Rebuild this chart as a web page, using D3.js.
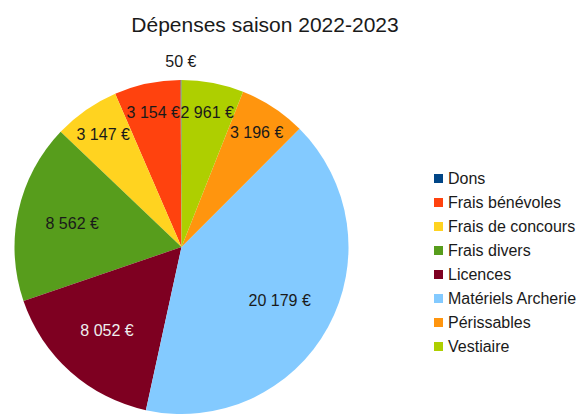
<!DOCTYPE html>
<html>
<head>
<meta charset="utf-8">
<script src="https://cdn.jsdelivr.net/npm/d3@7"></script>
<style>
  body { margin: 0; background: #fff; }
  text { font-family: "Liberation Sans", Arial, sans-serif; }
</style>
</head>
<body>
<div id="content"></div>
<script>
// chart data
const categories = ["Dons", "Frais bénévoles", "Frais de concours", "Frais divers",
                    "Licences", "Matériels Archerie", "Périssables", "Vestiaire"];
const values = [50, 3154, 3147, 8562, 8052, 20179, 3196, 2961];
const colors = ["#004586", "#ff420e", "#ffd320", "#579d1c",
                "#7e0021", "#83caff", "#ff950e", "#aecf00"];
const title = "Dépenses saison 2022-2023";

const width = 581, height = 416;
const cx = 181.5, cy = 247, radius = 167;

const svg = d3.select("#content")
    .append("svg")
    .attr("width", width)
    .attr("height", height);

// title
svg.append("text")
    .attr("x", 265)
    .attr("y", 32)
    .attr("text-anchor", "middle")
    .attr("font-size", "21px")
    .attr("fill", "#1a1a1a")
    .text(title);

const data = categories.map((c, i) => ({ name: c, value: values[i], color: colors[i] }));

// slices go counter-clockwise from the top, like LibreOffice does
const pie = d3.pie()
    .sort(null)
    .value(d => d.value)
    .startAngle(0)
    .endAngle(-2 * Math.PI);

const arc = d3.arc().innerRadius(0).outerRadius(radius);
const total = d3.sum(values);
const fmt = v => d3.format(",")(v).replace(/,/g, "\u00a0") + "\u00a0€";

const g = svg.append("g")
    .attr("transform", "translate(" + cx + "," + cy + ")");

const arcs = pie(data);

g.selectAll("path")
    .data(arcs)
    .enter()
    .append("path")
    .attr("d", arc)
    .attr("fill", d => d.data.color);

// value labels
g.selectAll("text.label")
    .data(arcs)
    .enter()
    .append("text")
    .attr("class", "label")
    .attr("transform", d => {
        const share = d.data.value / total;
        let r = share > 0.14 ? radius * 0.67 : radius * 0.82;
        if (share < 0.01) r = radius * 1.11;
        const a = (d.startAngle + d.endAngle) / 2;
        return "translate(" + (Math.sin(a) * r) + "," + (-Math.cos(a) * r) + ")";
    })
    .attr("text-anchor", "middle")
    .attr("dominant-baseline", "central")
    .attr("font-size", "16px")
    .attr("fill", d => d.data.name === "Licences" ? "#eeeeee" : "#1a1a1a")
    .text(d => fmt(d.data.value));

// legend
const legend = svg.append("g")
    .attr("transform", "translate(434,174)");

const rows = legend.selectAll("g")
    .data(data)
    .enter()
    .append("g")
    .attr("transform", (d, i) => "translate(0," + (i * 24) + ")");

rows.append("rect")
    .attr("width", 9)
    .attr("height", 9)
    .attr("fill", d => d.color);

rows.append("text")
    .attr("x", 14)
    .attr("y", 4.5)
    .attr("dominant-baseline", "central")
    .attr("font-size", "16px")
    .attr("fill", "#1a1a1a")
    .text(d => d.name);
</script>
</body>
</html>
